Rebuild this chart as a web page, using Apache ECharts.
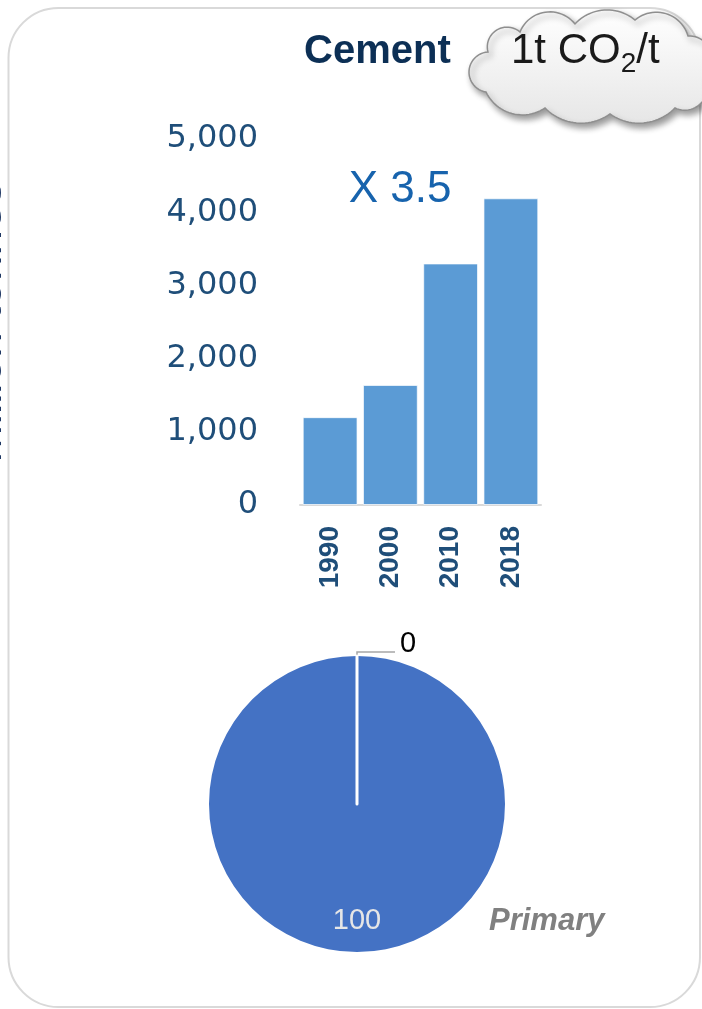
<!DOCTYPE html>
<html><head><meta charset="utf-8">
<script src="https://cdn.jsdelivr.net/npm/echarts@6/dist/echarts.min.js"></script>
<style>html,body{margin:0;padding:0;background:#fff}#c{width:702px;height:1009px}</style>
</head><body><div id="c"></div>
<script>
// ---- data ----
const years = ['1990', '2000', '2010', '2018'];
const production = [1200, 1640, 3300, 4190];
const yMin = 0, yMax = 5000, yInterval = 1000;
const pieNames = ['Primary', 'Secondary'];
const pieValues = [100, 0];
const titleText = 'Cement';
const growthText = 'X 3.5';
const yAxisTitle = 'Million tonnes';
const cloudParts = ['1t CO', '2', '/t'];

// ---- cloud outline (decoration) ----
const cloudInner = [[486,92],[488,52],[520,32],[575,24],[635,20],[688,36],[705,78],[675,108],[610,114],[545,108]];
const cloudBulge = [18,14,16,12,15,16,15,12,12,14];
function cloudPoints() {
  const pts = [];
  for (let i = 0; i < cloudInner.length; i++) {
    const P = cloudInner[i], Q = cloudInner[(i + 1) % cloudInner.length];
    const h = cloudBulge[i];
    const dx = Q[0] - P[0], dy = Q[1] - P[1];
    const c = Math.hypot(dx, dy);
    const r = (c * c / 4 + h * h) / (2 * h);
    const nx = dy / c, ny = -dx / c;
    const mx = (P[0] + Q[0]) / 2, my = (P[1] + Q[1]) / 2;
    const d = r - h;
    const cx = mx - nx * d, cy = my - ny * d;
    let a0 = Math.atan2(P[1] - cy, P[0] - cx);
    let a1 = Math.atan2(Q[1] - cy, Q[0] - cx);
    let da = a1 - a0;
    while (da > Math.PI) da -= 2 * Math.PI;
    while (da <= -Math.PI) da += 2 * Math.PI;
    const n = 24;
    for (let k = 0; k < n; k++) {
      const a = a0 + da * k / n;
      pts.push([cx + r * Math.cos(a), cy + r * Math.sin(a)]);
    }
  }
  return pts;
}

const chart = echarts.init(document.getElementById('c'), null, {renderer: 'canvas'});
const option = {
  animation: false,
  backgroundColor: '#ffffff',
  title: {
    text: titleText, left: 304, top: 32, padding: 0,
    textStyle: {fontSize: 40, fontWeight: 'bold', fontFamily: 'Liberation Sans, Arial, sans-serif', color: '#0c2f55', lineHeight: 40}
  },
  legend: {
    data: ['Primary'], left: 484, top: 906, padding: 0, icon: 'none', itemWidth: 0, itemHeight: 0,
    selectedMode: false,
    textStyle: {fontSize: 31, fontWeight: 'bold', fontStyle: 'italic', fontFamily: 'Liberation Sans, Arial, sans-serif', color: '#808080', lineHeight: 30}
  },
  grid: {left: 300, width: 241, top: 139, height: 366, containLabel: false, outerBoundsMode: 'none'},
  xAxis: {
    type: 'category', data: years,
    axisTick: {show: false},
    axisLine: {lineStyle: {color: '#d9d9d9', width: 2}},
    axisLabel: {rotate: 90, margin: 21, fontSize: 28, fontWeight: 'bold', color: '#1f4e79',
      fontFamily: 'Liberation Sans, Arial, sans-serif'}
  },
  yAxis: {
    type: 'value', min: yMin, max: yMax, interval: yInterval,
    splitLine: {show: false}, axisLine: {show: false}, axisTick: {show: false},
    axisLabel: {margin: 42, fontSize: 32, color: '#1f4e79', fontFamily: 'DejaVu Sans, Verdana, sans-serif',
      formatter: v => v.toLocaleString('en-US')},
    name: yAxisTitle, nameLocation: 'middle', nameRotate: 90, nameGap: 289, nameMoveOverlap: false,
    nameTextStyle: {fontSize: 46, color: '#1f3864', fontFamily: 'Liberation Sans, Arial, sans-serif'}
  },
  series: [
    {
      type: 'bar', data: production, barCategoryGap: '9%',
      itemStyle: {color: '#5b9bd5', borderColor: 'rgba(255,255,255,0.7)', borderWidth: 1},
      emphasis: {disabled: true}, silent: true
    },
    {
      type: 'pie', center: [357, 804], radius: 148, startAngle: 89.999, clockwise: false,
      avoidLabelOverlap: false, silent: true, emphasis: {disabled: true},
      label: {show: true, formatter: '{c}', fontSize: 29, fontFamily: 'Liberation Sans, Arial, sans-serif'},
      labelLayout: function (p) { return p.dataIndex === 0 ? {dy: 40} : {dy: -8}; },
      data: [
        {name: pieNames[0], value: pieValues[0],
          itemStyle: {color: '#4472c4', borderWidth: 0},
          label: {position: 'inside', color: '#e6e6e6'}, labelLine: {show: false}},
        {name: pieNames[1], value: pieValues[1],
          itemStyle: {color: '#ed7d31', borderColor: '#ffffff', borderWidth: 3},
          label: {position: 'outside', color: '#000000'},
          labelLine: {show: true, length: 4, length2: 38, lineStyle: {color: '#a6a6a6', width: 1.5}}}
      ]
    }
  ],
  graphic: [
    {type: 'rect', z: 0, silent: true,
      shape: {x: 8.5, y: 8, width: 691.5, height: 999, r: 50},
      style: {fill: 'none', stroke: '#d9d9d9', lineWidth: 2}},
    {type: 'polygon', z: 10, silent: true,
      shape: {points: cloudPoints()},
      style: {
        fill: new echarts.graphic.LinearGradient(0, 10, 0, 125, [{offset: 0, color: '#ffffff'}, {offset: 1, color: '#e6e6e6'}], true),
        stroke: '#8f8f8f', lineWidth: 1.5,
        shadowBlur: 6, shadowOffsetX: 3, shadowOffsetY: 4, shadowColor: 'rgba(0,0,0,0.4)'
      }},
    {type: 'text', z: 11, silent: true, x: 511, y: 51,
      style: {
        text: '{a|' + cloudParts[0] + '}{b|' + cloudParts[1] + '}{a|' + cloudParts[2] + '}',
        textAlign: 'left', textVerticalAlign: 'middle',
        rich: {
          a: {fontSize: 42, lineHeight: 54, fontFamily: 'Liberation Sans, Arial, sans-serif', fill: '#1a1a1a', color: '#1a1a1a'},
          b: {fontSize: 28, lineHeight: 20, verticalAlign: 'bottom', fontFamily: 'Liberation Sans, Arial, sans-serif', fill: '#1a1a1a', color: '#1a1a1a'}
        }
      }},
    {type: 'text', z: 11, silent: true, x: 400, y: 190,
      style: {text: growthText, textAlign: 'center', textVerticalAlign: 'middle',
        fontSize: 44, fontFamily: 'Liberation Sans, Arial, sans-serif', fill: '#1763ad'}}
  ]
};
chart.setOption(option);
</script>
</body></html>
